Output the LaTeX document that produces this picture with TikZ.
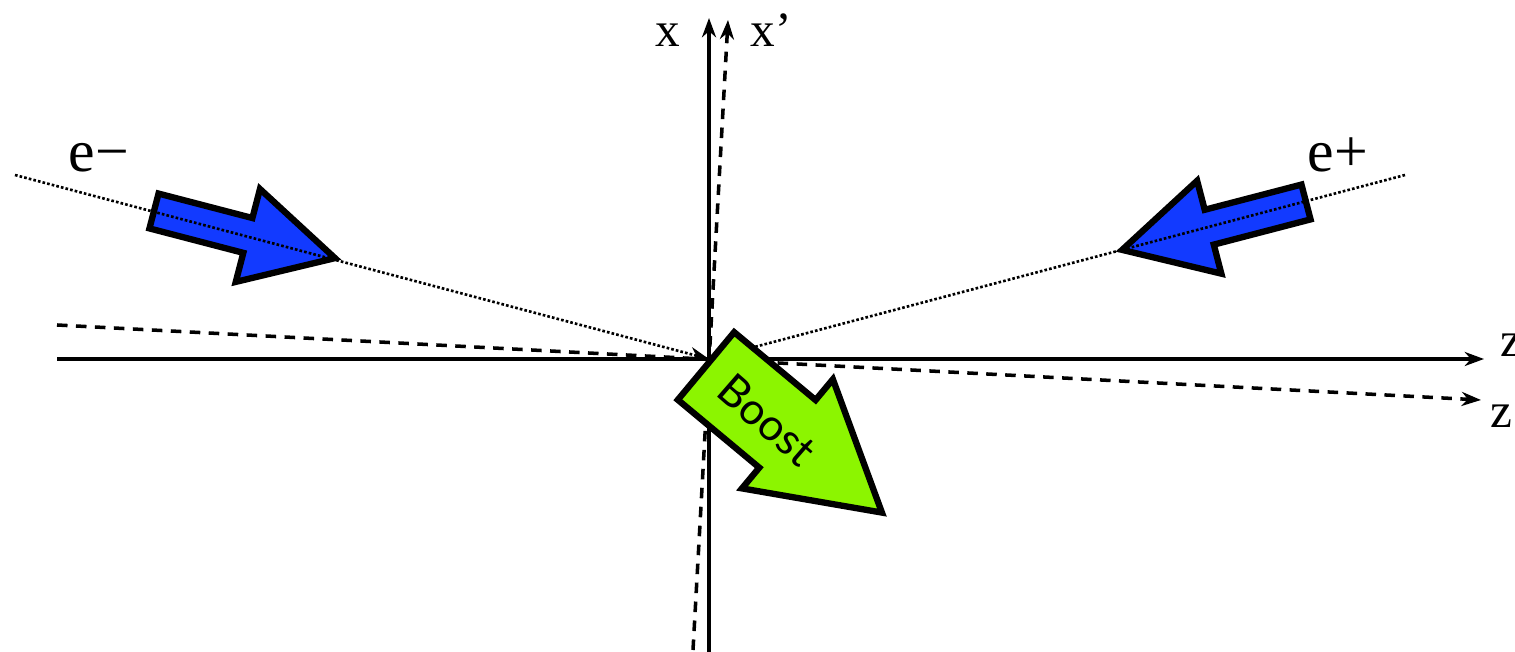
\documentclass[tikz,border=0pt]{standalone}
\usepackage{fontspec}
\setmainfont{Liberation Serif}
\newfontfamily\boostfont{Lato}
\usetikzlibrary{arrows.meta}
\usetikzlibrary{positioning}
\definecolor{beam}{RGB}{18,58,255}
\definecolor{boost}{RGB}{140,245,0}

% block arrow: tail centre, angle, length, shaft half width, head half width, head length, fill
\newcommand{\fatarrow}[7]{%
  \draw[blockarrow, fill=#7, shift={#1}, rotate=#2]
    (0,-#4) -- ({#3-#6},-#4) -- ({#3-#6},-#5) -- (#3,0)
    -- ({#3-#6},#5) -- ({#3-#6},#4) -- (0,#4) -- cycle;}

\begin{document}
\begin{tikzpicture}[x=0.01cm, y=-0.01cm,
  >={Stealth[length=5.5pt,width=4pt]},
  axis/.style={line width=1pt},
  primed/.style={line width=1pt, dash pattern=on 3pt off 2.4pt},
  beamline/.style={line width=0.75pt, dash pattern=on 0.75pt off 0.6pt},
  blockarrow/.style={line width=1.8pt, line join=miter},
  axlabel/.style={inner sep=0pt, anchor=base west, font=\fontsize{14}{16}\selectfont},
  partlabel/.style={inner sep=0pt, anchor=base west, font=\fontsize{17}{19}\selectfont}]

\useasboundingbox (0,0) rectangle (1515,652);

% Origin and axis ends
\coordinate (O) at (709,359);
\coordinate (zL) at (57,359);
\coordinate (zR) at (1484,359);
\coordinate (xB) at (709,652);
\coordinate (xT) at (709,18);
\coordinate (zpL) at (57,325);
\coordinate (zpR) at (1481,400);
\coordinate (xpB) at (693,650);
\coordinate (xpT) at (728,20);
\coordinate (em) at (15,175);
\coordinate (ep) at (1405,175);

% Axes
\draw[axis, ->] (zL) -- (zR);
\draw[axis, ->] (xB) -- (xT);
\draw[primed, ->] (zpL) -- (zpR);
\draw[primed, ->] (xpB) -- (xpT);

% Beams
\fatarrow{(154,211)}{-14.6}{187}{18}{48}{90}{beam}
\fatarrow{(1306,202)}{194.6}{190}{18}{48}{90}{beam}
\draw[beamline, ->] (em) -- (O);
\draw[beamline, ->] (ep) -- (O);

% Boost
\fatarrow{(706,366)}{-39.8}{229}{44}{71}{123}{boost}
\node[rotate=-41, font=\boostfont\fontsize{12.5}{14}\selectfont] (boostlab) at (767,420) {Boost};

% Labels
\node[axlabel] (xlab) at (655,47) {x};
\node[axlabel] (xplab) at (750,47) {x’};
\node[axlabel] (zlab) at (1500,357) {z};
\node[axlabel] (zplab) at (1490,428) {z’};
\node[partlabel] (emlab) at (68,172) {e−};
\node[partlabel] (eplab) at (1307,172) {e+};

\end{tikzpicture}
\end{document}
